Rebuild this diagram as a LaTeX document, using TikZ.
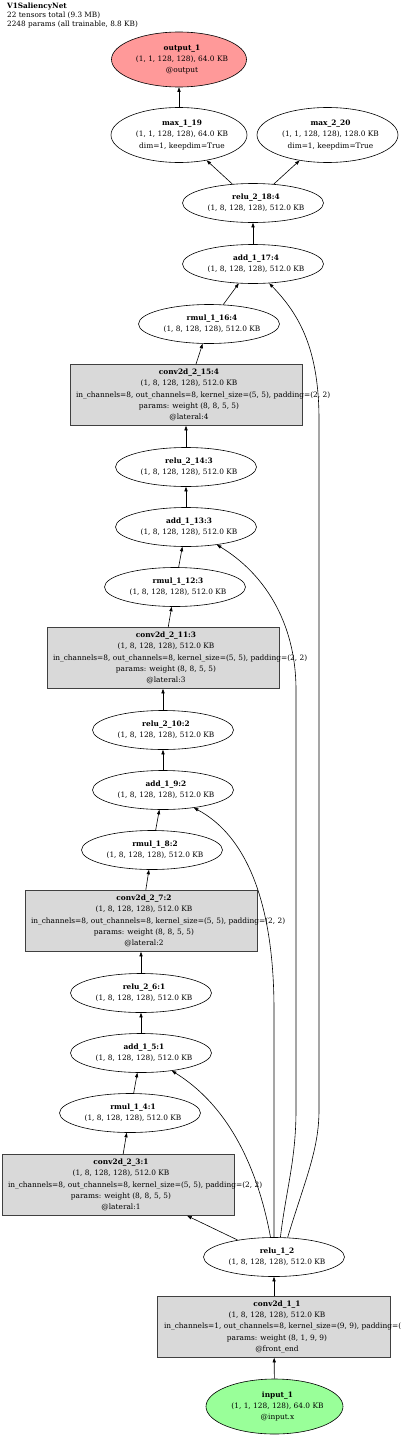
\documentclass[tikz,border=0pt]{standalone}
\usepackage{fontspec}
\setmainfont{DejaVu Serif}
\usetikzlibrary{shapes.geometric,arrows.meta}

\definecolor{layergray}{HTML}{D9D9D9}
\definecolor{outred}{HTML}{FF9999}
\definecolor{ingreen}{HTML}{99FF99}
\newcommand{\nodefont}{\fontsize{7.4}{11.3}\selectfont}
% eine Zeile, leicht nach rechts versetzt wie im Original
\newcommand{\tline}[1]{\makebox[0pt]{\hspace*{6pt}#1}}
% lange Zeile, beginnt am linken Kastenrand und darf ueberstehen
\newcommand{\wline}[1]{\makebox[0pt][l]{\hspace*{-110pt}#1}}

\tikzset{
  lbl/.style={font=\nodefont, align=center, inner sep=0pt},
  tensor/.style={lbl, draw, ellipse, line width=0.6pt, minimum width=141pt, minimum height=39pt},
  layer/.style={lbl, draw=black!75, fill=layergray, line width=0.6pt, minimum width=232pt, minimum height=61pt},
  arr/.style={-{Triangle[length=4.5pt,width=3.2pt]}, line width=0.6pt}
}

\begin{document}
\begin{tikzpicture}[x=1pt, y=-1pt]
  \useasboundingbox (0,0) rectangle (400,1437);

  % Kopfzeile
  \node[anchor=north west, align=left, inner sep=0pt, font=\fontsize{7.3}{9.3}\selectfont] (title) at (7,2.5)
    {\textbf{V1SaliencyNet}\\22 tensors total (9.3 MB)\\2248 params (all trainable, 8.8 KB)};

  % Ausgaenge
  \node[tensor, fill=outred, minimum width=135pt, minimum height=55pt] (out) at (179,59.5)
    {\tline{\textbf{output\_1}}\\\tline{(1, 1, 128, 128), 64.0 KB}\\\tline{@output}};
  \node[tensor, minimum width=136pt, minimum height=55pt] (max19) at (179,135)
    {\tline{\textbf{max\_1\_19}}\\\tline{(1, 1, 128, 128), 64.0 KB}\\\tline{dim=1, keepdim=True}};
  \node[tensor, minimum height=55pt] (max20) at (327.5,135)
    {\tline{\textbf{max\_2\_20}}\\\tline{(1, 1, 128, 128), 128.0 KB}\\\tline{dim=1, keepdim=True}};

  % Stufe 4
  \node[tensor] (relu18) at (253,203) {\tline{\textbf{relu\_2\_18:4}}\\\tline{(1, 8, 128, 128), 512.0 KB}};
  \node[tensor] (add17) at (253,264) {\tline{\textbf{add\_1\_17:4}}\\\tline{(1, 8, 128, 128), 512.0 KB}};
  \node[tensor] (rmul16) at (209,324) {\tline{\textbf{rmul\_1\_16:4}}\\\tline{(1, 8, 128, 128), 512.0 KB}};
  \node[layer] (conv15) at (186,395)
    {\tline{\textbf{conv2d\_2\_15:4}}\\\tline{(1, 8, 128, 128), 512.0 KB}\\
     \wline{in\_channels=8, out\_channels=8, kernel\_size=(5, 5), padding=(2, 2)}\\
     \tline{params: weight (8, 8, 5, 5)}\\\tline{@lateral:4}};

  % Stufe 3
  \node[tensor] (relu14) at (186,467) {\tline{\textbf{relu\_2\_14:3}}\\\tline{(1, 8, 128, 128), 512.0 KB}};
  \node[tensor] (add13) at (186,527) {\tline{\textbf{add\_1\_13:3}}\\\tline{(1, 8, 128, 128), 512.0 KB}};
  \node[tensor] (rmul12) at (175,587) {\tline{\textbf{rmul\_1\_12:3}}\\\tline{(1, 8, 128, 128), 512.0 KB}};
  \node[layer] (conv11) at (163,658)
    {\tline{\textbf{conv2d\_2\_11:3}}\\\tline{(1, 8, 128, 128), 512.0 KB}\\
     \wline{in\_channels=8, out\_channels=8, kernel\_size=(5, 5), padding=(2, 2)}\\
     \tline{params: weight (8, 8, 5, 5)}\\\tline{@lateral:3}};

  % Stufe 2
  \node[tensor] (relu10) at (163,730) {\tline{\textbf{relu\_2\_10:2}}\\\tline{(1, 8, 128, 128), 512.0 KB}};
  \node[tensor] (add9) at (163,790) {\tline{\textbf{add\_1\_9:2}}\\\tline{(1, 8, 128, 128), 512.0 KB}};
  \node[tensor] (rmul8) at (152,850) {\tline{\textbf{rmul\_1\_8:2}}\\\tline{(1, 8, 128, 128), 512.0 KB}};
  \node[layer] (conv7) at (141,921)
    {\tline{\textbf{conv2d\_2\_7:2}}\\\tline{(1, 8, 128, 128), 512.0 KB}\\
     \wline{in\_channels=8, out\_channels=8, kernel\_size=(5, 5), padding=(2, 2)}\\
     \tline{params: weight (8, 8, 5, 5)}\\\tline{@lateral:2}};

  % Stufe 1
  \node[tensor] (relu6) at (141,993) {\tline{\textbf{relu\_2\_6:1}}\\\tline{(1, 8, 128, 128), 512.0 KB}};
  \node[tensor] (add5) at (141,1053) {\tline{\textbf{add\_1\_5:1}}\\\tline{(1, 8, 128, 128), 512.0 KB}};
  \node[tensor] (rmul4) at (130,1113) {\tline{\textbf{rmul\_1\_4:1}}\\\tline{(1, 8, 128, 128), 512.0 KB}};
  \node[layer] (conv3) at (118,1185)
    {\tline{\textbf{conv2d\_2\_3:1}}\\\tline{(1, 8, 128, 128), 512.0 KB}\\
     \wline{in\_channels=8, out\_channels=8, kernel\_size=(5, 5), padding=(2, 2)}\\
     \tline{params: weight (8, 8, 5, 5)}\\\tline{@lateral:1}};

  % Eingang
  \node[tensor] (relu12) at (274,1257) {\tline{\textbf{relu\_1\_2}}\\\tline{(1, 8, 128, 128), 512.0 KB}};
  \node[layer, minimum width=233pt] (conv1) at (274,1327)
    {\tline{\textbf{conv2d\_1\_1}}\\\tline{(1, 8, 128, 128), 512.0 KB}\\
     \wline{in\_channels=1, out\_channels=8, kernel\_size=(9, 9), padding=(4, 4)}\\
     \tline{params: weight (8, 1, 9, 9)}\\\tline{@front\_end}};
  \node[tensor, fill=ingreen, minimum width=137pt, minimum height=55pt] (inp) at (274.5,1406.5)
    {\tline{\textbf{input\_1}}\\\tline{(1, 1, 128, 128), 64.0 KB}\\\tline{@input.x}};

  % Kanten
  \draw[arr] (inp) -- (conv1);
  \draw[arr] (conv1) -- (relu12);
  \draw[arr] (relu12.155) -- (conv3.-24);
  \draw[arr] (conv3) -- (rmul4);
  \draw[arr] (rmul4) -- (add5);
  \draw[arr] (add5) -- (relu6);
  \draw[arr] (relu6) -- (conv7);
  \draw[arr] (conv7) -- (rmul8);
  \draw[arr] (rmul8) -- (add9);
  \draw[arr] (add9) -- (relu10);
  \draw[arr] (relu10) -- (conv11);
  \draw[arr] (conv11) -- (rmul12);
  \draw[arr] (rmul12) -- (add13);
  \draw[arr] (add13) -- (relu14);
  \draw[arr] (relu14) -- (conv15);
  \draw[arr] (conv15) -- (rmul16);
  \draw[arr] (rmul16) -- (add17);
  \draw[arr] (add17) -- (relu18);
  \draw[arr] (relu18) -- (max19);
  \draw[arr] (relu18) -- (max20);
  \draw[arr] (max19) -- (out);

  % Rueckfuehrungen von relu_1_2
  \draw[arr] (relu12.100) .. controls (260,1180) and (235,1110) .. (add5.-30);
  \draw[arr] (relu12.north) -- (274,1010) .. controls (274,900) and (245,835) .. (add9.-30);
  \draw[arr] (relu12.72) .. controls (286,1190) and (296,1160) .. (296,1110) -- (296,690)
    .. controls (296,620) and (262,572) .. (add13.-30);
  \draw[arr] (relu12.55) .. controls (305,1180) and (319,1150) .. (319,1110) -- (319,420)
    .. controls (319,350) and (300,315) .. (add17.-50);
\end{tikzpicture}
\end{document}
